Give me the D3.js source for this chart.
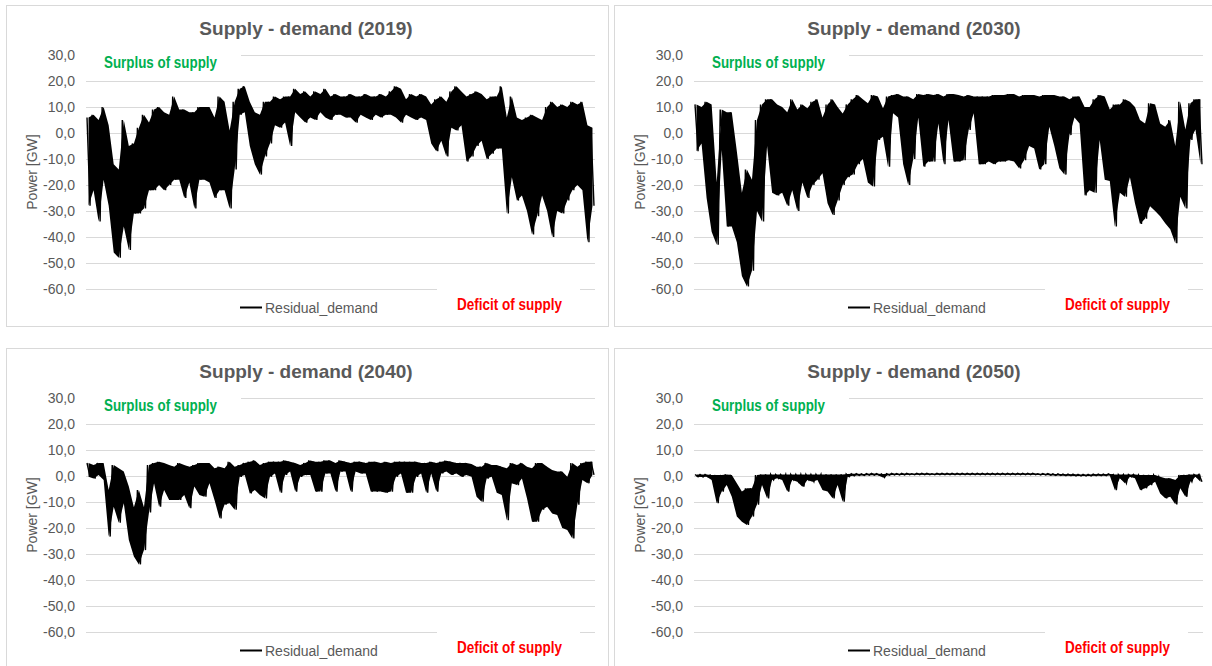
<!DOCTYPE html>
<html><head><meta charset="utf-8">
<script src="https://cdn.jsdelivr.net/npm/d3@7"></script>
<style>
body{margin:0;background:#fff;}
svg{display:block;font-family:"Liberation Sans",Arial,sans-serif;}
</style>
</head><body>
<svg id="chart" width="1212" height="666"></svg>
<script>
// ---- data (hourly residual demand, read per time bin as max / min, GW) ----
const years = ["2019", "2030", "2040", "2050"];
const yTicks = [30, 20, 10, 0, -10, -20, -30, -40, -50, -60];
const seriesName = "Residual_demand";
const surplusLabel = "Surplus of supply";
const deficitLabel = "Deficit of supply";

const hi2019 = [6,7,5,10,3,-12,-14,5,-5,-4, 2,7,4,9,10,8,7,14,9,9, 8,8,10,10,10,6,14,12,1,12,
  17,18,12,8,7,12,12,14,13,14, 14,17,15,16,14,16,15,17,14,15, 14,14,15,14,14,15,14,14,15,14,
  16,18,17,13,15,14,15,14,11,13, 14,12,16,18,16,14,15,16,15,13, 14,14,18,6,14,6,5,6,7,6,
  5,10,12,10,11,10,12,11,12,3, 2];
const lo2019 = [-28,-22,-34,-18,-28,-46,-48,-36,-45,-31, -31,-29,-22,-22,-20,-22,-20,-18,-18,-25,
  -19,-29,-18,-18,-19,-25,-22,-22,-29,-14, 7,8,-5,-12,-16,-9,-4,3,2,4,
  -5,8,6,4,6,5,8,6,5,7, 7,6,6,4,7,6,5,7,6,7, 7,6,4,7,6,5,6,5,-4,-7,
  -3,-9,2,1,3,-11,-9,-5,-3,-10, -8,-6,-6,-31,-17,-26,-24,-30,-39,-32,
  -24,-30,-40,-30,-31,-26,-22,-20,-22,-42, -28];

const hi2030 = [11,10,12,11,-19,9,8,8,-7,-23, -14,-18,5,11,13,13,11,10,8,13,
  9,11,9.5,12,13,6,11,13,10,7.5, 11,13,14.6,13,11.4,14.6,14,9.5,14,14.6,
  15,14,14,13,15,14.6,15,14.6,15,14, 15,15,14.6,14,14.6,14,14,14,14,14.6,
  14.6,14.6,15,15,14,14.6,14.6,14.6,14,14.6, 14.6,14.6,14,14,13,14,14,10,10,13,
  14.6,14,9,11,11,13,12,10,5,3.7, 11.4,11,3.7,2.4,5,-5,12,1.3,11.4,13, 13];
const lo2030 = [-7,-4,-25,-38,-43,-6.5,-36,-36,-42,-55, -59,-53,-30,-34,-5,-23,-24,-23,-28,-22,
  -30,-19,-25,-20,-18,-15.5,-27,-31.5,-26,-20, -17,-16,-12,-10,-19,-20.6,-2.7,-1.4,-13,7.6,
  6,-12,-20,-10,6,-13,-11,-11,3.7,-12, 5,-11,-11,-10.5,1.2,7.6,-12,-12,-11,-12,
  -11,-11,-10.5,-11,-13.6,-10.5,-5,-6,-14,-12, 2.4,-5,-13.6,-16,-0.8,6,3.7,-24,-22,-23,
  -2.7,-18,-18.5,-36,-23,-24.5,-17,-27,-35,-33, -28.2,-30,-32,-34.7,-37,-42.4,-24.5,-29,-2.7,1.3, -12];

const hi2040 = [5,4.2,5,5,-5.4,4.2,3,1.7,-4,-12, -5.4,-12,4.2,5,5.5,5,4.2,3.6,5,4.2,
  3.6,4.2,5,5,5,3,3.6,3,5.5,3.6, 4.2,5,5.5,6,4.2,5,5.5,5.5,5.5,6,
  5.5,5,4.2,5,6,5.5,5.5,6,6,5, 6,5.5,5,5.5,5.5,5,5.5,5.5,5,5.5,
  5,5.5,5.5,5.5,5.5,5.5,5,5,5.5,5, 5.5,5.9,5.5,5,5,5,4.6,3.6,3.6,5,
  4.2,4.2,3.6,3,5,4.2,5,3.6,3,5, 5,3.6,2.3,1.7,1.7,-0.3,5,3.6,5,5.5, 5.5];
const lo2040 = [-0.3,-1,0.4,-1.5,-23.3,-11.8,-18,-10.5,-24.6,-31, -34,-28.5,-14,-2.8,-11.8,-5.4,-9.2,-9.2,-9.2,-7.3,
  -12.4,-4,-7.3,-8,-2.8,-9.2,-16.3,-11,-10.5,-13, -0.3,0.4,-6.7,-5.4,-7.3,-8.6,-0.3,1,-6.4,0.4,
  1.7,-6,-0.3,0.4,0.4,-6,-6,1,1,-6, 1.7,1.7,-6,1.7,1,1,-6,-6,-6,-6.4,
  -6,-0.3,1,-6.4,-6.4,-0.3,1,-6.4,1,-6, 1,1.7,0.4,1,-0.3,0.4,-0.3,-8,-9.9,-1,
  -0.3,-6.4,-7.3,-17,-2.8,-3.5,-1,-8.6,-17.6,-17.6, -13,-11.8,-14.4,-15,-20,-20.8,-24,-11,-1.5,-2.8, 0.4];

const hi2050 = [0.6,0.6,0.6,0.4,0.4,0.4,0.6,0.4,-2.8,-6, -4.7,-4.7,0.4,0.6,0.6,0.6,0.6,0.6,0.6,0.6,
  0.6,0.6,0.6,0.6,0.6,0.6,0.6,0.6,0.6,0.6, 0.8,0.9,0.9,0.8,0.9,1,0.9,0.8,0.9,1,
  0.9,1,1,0.9,1,1,1,0.9,1,1, 1,1,1,1,1,1,1,1,1,1, 1,1,1,1,1,1,1,1,0.9,0.9,
  0.9,0.8,0.8,0.7,0.7,0.7,0.6,0.6,0.6,0.7, 0.7,0.7,0.8,0.6,0.6,0.6,0.6,0.6,0.4,0.4,
  0.4,0.4,-0.3,-0.9,-0.9,-1.5,0.4,0.4,0.6,0.6, 0.6];
const lo2050 = [-0.3,-0.4,-0.3,-1.5,-10.5,-6,-3.5,-8,-15.6,-17.6, -18.8,-15.6,-11,-3.5,-8.6,-1.5,-0.9,-1.5,-6,-1.5,
  -2.2,-4.1,-1.5,-2.2,-1.5,-5.4,-6,-8.6,-3.5,-9.9, -0.3,0.1,0.2,0.2,0.3,0.3,0.3,-0.6,0.3,0.4,
  0.4,0.4,0.5,0.5,0.5,0.5,0.5,0.5,0.5,0.5, 0.5,0.5,0.5,0.5,0.5,0.5,0.5,0.5,0.5,0.5,
  0.5,0.5,0.5,0.5,0.5,0.5,0.5,0.5,0.4,0.4, 0.3,0.2,0.2,0.1,0.1,0,0,0,0,0.1,
  0.1,0.1,0.2,-5.4,-0.9,-2.8,-0.3,-0.9,-5.4,-4.7, -3.5,-2.2,-6.7,-8.6,-8,-10.9,-4.7,-8,-2.2,-0.3, -2.2];

const highs = [hi2019, hi2030, hi2040, hi2050];
const lows = [lo2019, lo2030, lo2040, lo2050];

// ---- layout ----
const svg = d3.select("#chart");
const offsets = [[0, 0], [608, 0], [0, 343], [608, 343]];
const fmt = v => v.toFixed(1).replace(".", ",");
const gray = "#595959";

years.forEach((year, k) => {
  const [ox, oy] = offsets[k];
  const g = svg.append("g").attr("transform", `translate(${ox},${oy})`);
  const hi = highs[k], lo = lows[k];
  const N = hi.length;

  // panel frame
  g.append("rect").attr("x", 6.5).attr("y", 5.5).attr("width", 602).attr("height", 321)
    .attr("fill", "#fff").attr("stroke", "#d9d9d9").attr("stroke-width", 1);

  const x = d3.scaleLinear().domain([0, N]).range([86, 595]);
  const y = d3.scaleLinear().domain([-60, 30]).range([289, 55]);

  // title
  g.append("text").attr("x", 306).attr("y", 35).attr("text-anchor", "middle")
    .attr("font-size", 19).attr("font-weight", "bold").attr("fill", gray)
    .text(`Supply - demand (${year})`);

  // y axis with gridlines
  const ax = g.append("g").attr("transform", "translate(86,0)")
    .call(d3.axisLeft(y).tickValues(yTicks).tickFormat(fmt).tickSize(-(595 - 86)).tickPadding(11));
  ax.select(".domain").remove();
  ax.selectAll(".tick line").attr("stroke", "#d9d9d9").attr("stroke-width", 1);
  ax.selectAll(".tick text").attr("fill", gray).attr("font-size", 14)
    .attr("font-family", '"Liberation Sans",Arial,sans-serif');

  // y axis title
  g.append("text").attr("transform", "translate(37,172) rotate(-90)").attr("text-anchor", "middle")
    .attr("font-size", 14).attr("fill", gray).text("Power [GW]");

  // label boxes (white, covering gridlines)
  g.append("rect").attr("x", 86).attr("y", 48).attr("width", 155).attr("height", 26).attr("fill", "#fff");
  g.append("rect").attr("x", 437).attr("y", 286).attr("width", 143).attr("height", 30).attr("fill", "#fff");

  // envelope band of the hourly series (max/min per bin)
  const bins = hi.map((h, i) => ({ t: i + 0.5, h: h, l: lo[i] }));
  const area = d3.area().x(d => x(d.t)).y0(d => y(d.l)).y1(d => y(d.h));
  g.append("path").datum(bins).attr("d", area).attr("fill", "#000");

  // hourly swings: max/min of each time bin, in time order
  const pts = [];
  hi.forEach((h, i) => { pts.push([i + 0.2, h]); pts.push([i + 0.8, lo[i]]); });
  const line = d3.line().x(d => x(d[0])).y(d => y(d[1]));
  g.append("path").datum(pts).attr("d", line).attr("fill", "none")
    .attr("stroke", "#000").attr("stroke-width", 1.4);

  // annotations
  g.append("text").attr("x", 104).attr("y", 68).attr("font-size", 16).attr("font-weight", "bold")
    .attr("font-family", '"Liberation Sans Narrow","Arial Narrow","Liberation Sans",sans-serif')
    .attr("fill", "#00b050").attr("textLength", 113).attr("lengthAdjust", "spacingAndGlyphs")
    .text(surplusLabel);
  g.append("text").attr("x", 457).attr("y", 309.5).attr("font-size", 16).attr("font-weight", "bold")
    .attr("font-family", '"Liberation Sans Narrow","Arial Narrow","Liberation Sans",sans-serif')
    .attr("fill", "#ff0000").attr("textLength", 105).attr("lengthAdjust", "spacingAndGlyphs")
    .text(deficitLabel);

  // legend
  g.append("line").attr("x1", 240).attr("x2", 262).attr("y1", 307.5).attr("y2", 307.5)
    .attr("stroke", "#000").attr("stroke-width", 2);
  g.append("text").attr("x", 265).attr("y", 312.5).attr("font-size", 14).attr("fill", gray)
    .text(seriesName);
});
</script>
</body></html>
